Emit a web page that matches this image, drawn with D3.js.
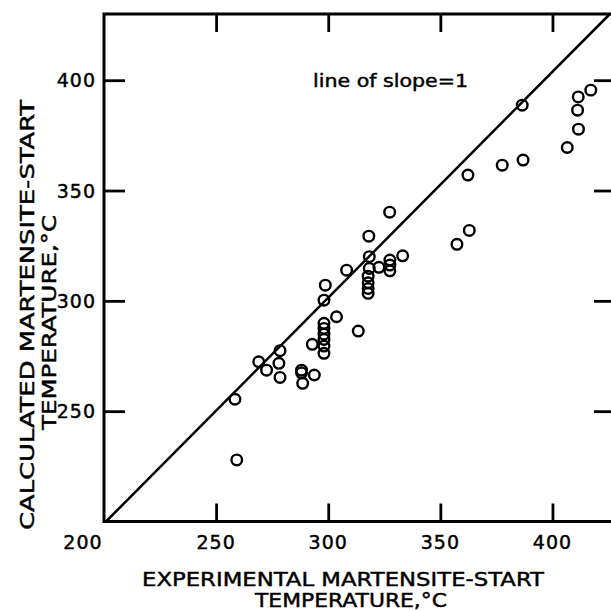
<!DOCTYPE html>
<html>
<head>
<meta charset="utf-8">
<script src="https://cdn.jsdelivr.net/npm/d3@7"></script>
<style>
    html, body { margin: 0; padding: 0; background: #fff; }
    svg { display: block; }
    text { font-family: "DejaVu Sans", sans-serif; fill: #000; stroke: #000; stroke-width: 0.45; }
    .tick line { stroke: #000; stroke-width: 2.8; }
    .domain { display: none; }
</style>
</head>
<body>
<svg id="chart"></svg>
<script>
// experimental Ms (x) vs calculated Ms (y), deg C
const expMs = [
    386.5, 417.1, 411.5, 411.2, 411.6, 406.6, 386.9, 377.6, 362.3, 327.4,
    318.1, 362.9, 357.4, 318.3, 333.2, 327.5, 327.5, 327.5, 322.6, 318.3,
    308.2, 317.8, 317.8, 317.8, 317.8, 298.7, 298.1, 303.7, 313.4, 298.1,
    298.1, 298.1, 298.1, 298.1, 298.1, 292.9, 278.5, 269.0, 272.5, 278.0,
    278.5, 288.1, 288.1, 293.8, 288.6, 258.4, 259.2
];
const calcMs = [
    388.7, 395.5, 392.4, 386.4, 377.8, 369.5, 363.8, 361.5, 357.0, 340.2,
    329.3, 331.9, 325.6, 320.0, 320.4, 318.5, 316.2, 313.6, 315.2, 314.7,
    313.9, 311.2, 308.2, 305.6, 303.4, 307.1, 300.3, 292.8, 286.3, 289.8,
    287.5, 284.9, 282.5, 279.5, 276.2, 280.3, 277.4, 272.4, 268.6, 271.7,
    265.3, 268.6, 267.4, 266.4, 262.6, 255.4, 227.9
];
const xTicks = [200, 250, 300, 350, 400];
const yTicks = [250, 300, 350, 400];
// ends of the "slope = 1" reference line
const refLine = [[200.9, 200], [425.6, 430]];

const W = 611, H = 611;
const svg = d3.select('#chart').attr('width', W).attr('height', H);

const x = d3.scaleLinear().domain([200, 427]).range([104, 613]);
const y = d3.scaleLinear().domain([200, 430]).range([521.5, 14]);

// ticks on all four sides, pointing inwards
svg.append('g')
    .attr('transform', `translate(0,${y(200)})`)
    .call(d3.axisBottom(x).tickValues(xTicks.slice(1)).tickSize(-18).tickFormat(''));
svg.append('g')
    .attr('transform', `translate(0,${y(430)})`)
    .call(d3.axisTop(x).tickValues(xTicks.slice(1)).tickSize(-18).tickFormat(''));
svg.append('g')
    .attr('transform', `translate(${x(200)},0)`)
    .call(d3.axisLeft(y).tickValues(yTicks).tickSize(-21).tickFormat(''));
svg.append('g')
    .attr('transform', `translate(${x(427)},0)`)
    .call(d3.axisRight(y).tickValues(yTicks).tickSize(-19).tickFormat(''));

// frame
svg.append('rect')
    .attr('x', x(200)).attr('y', y(430))
    .attr('width', x(427) - x(200)).attr('height', y(200) - y(430))
    .style('fill', 'none').style('stroke', '#000').style('stroke-width', 3);

// tick labels
svg.append('g').selectAll('text')
    .data(xTicks)
    .enter().append('text')
    .attr('x', d => d === 200 ? x(d) - 21 : x(d))
    .attr('y', 549)
    .attr('text-anchor', 'middle')
    .style('font-size', '19px')
    .style('letter-spacing', '1px')
    .text(d => d);
svg.append('g').selectAll('text')
    .data(yTicks)
    .enter().append('text')
    .attr('x', 96)
    .attr('y', d => y(d) + 7)
    .attr('text-anchor', 'end')
    .style('font-size', '19px')
    .style('letter-spacing', '1px')
    .text(d => d);

// reference line
svg.append('line')
    .attr('x1', x(refLine[0][0])).attr('y1', y(refLine[0][1]))
    .attr('x2', x(refLine[1][0])).attr('y2', y(refLine[1][1]))
    .style('stroke', '#000').style('stroke-width', 2.5);

svg.append('text')
    .attr('x', 313).attr('y', 87)
    .attr('textLength', 155).attr('lengthAdjust', 'spacingAndGlyphs')
    .style('font-size', '17px')
    .text('line of slope=1');

// points
svg.append('g').selectAll('circle')
    .data(expMs.map((d, i) => [d, calcMs[i]]))
    .enter().append('circle')
    .attr('cx', d => x(d[0]))
    .attr('cy', d => y(d[1]))
    .attr('r', 5.3)
    .style('fill', 'none')
    .style('stroke', '#000')
    .style('stroke-width', 2.4);

// axis titles
const xTitle = svg.append('g');
xTitle.append('text')
    .attr('x', 142).attr('y', 586)
    .attr('textLength', 402).attr('lengthAdjust', 'spacingAndGlyphs')
    .style('font-size', '19px')
    .text('EXPERIMENTAL MARTENSITE-START');
xTitle.append('text')
    .attr('x', 255).attr('y', 607)
    .attr('textLength', 192).attr('lengthAdjust', 'spacingAndGlyphs')
    .style('font-size', '19px')
    .text('TEMPERATURE,°C');

const yTitle = svg.append('g')
    .attr('transform', 'rotate(-90)');
yTitle.append('text')
    .attr('x', -530).attr('y', 34)
    .attr('textLength', 430).attr('lengthAdjust', 'spacingAndGlyphs')
    .style('font-size', '20px')
    .text('CALCULATED MARTENSITE-START');
yTitle.append('text')
    .attr('x', -430).attr('y', 56)
    .attr('textLength', 215).attr('lengthAdjust', 'spacingAndGlyphs')
    .style('font-size', '20px')
    .text('TEMPERATURE,°C');
</script>
</body>
</html>
